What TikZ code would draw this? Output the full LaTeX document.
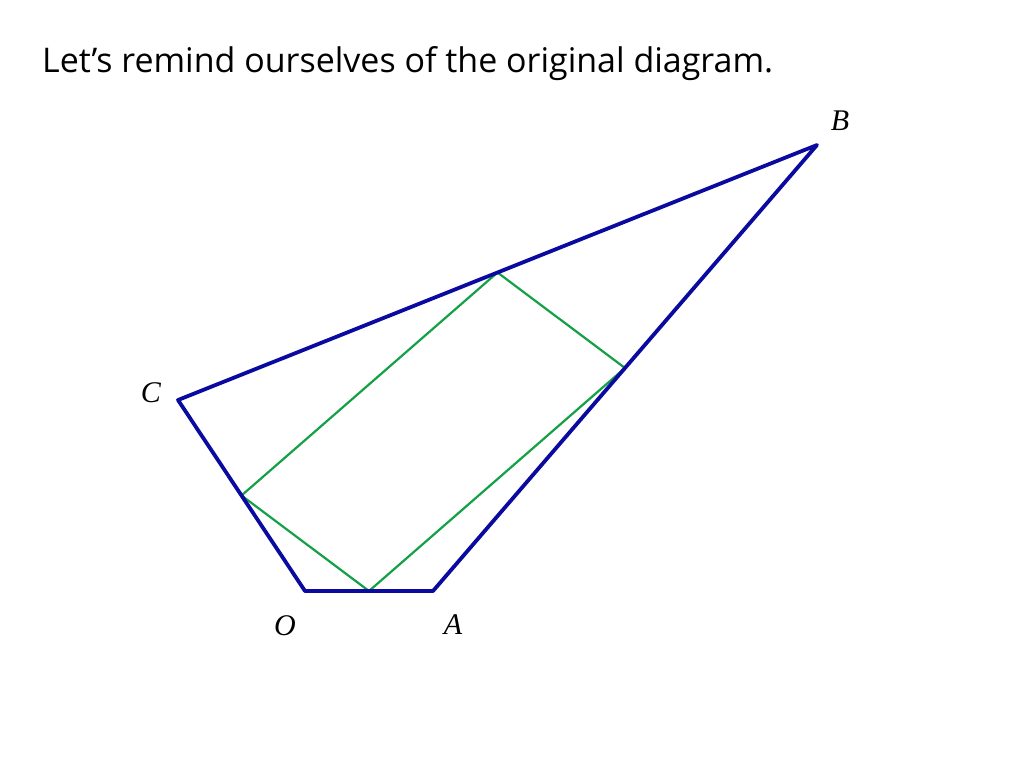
\documentclass[tikz,border=0pt]{standalone}
\usepackage{fontspec}
\newfontfamily\titlefont{Open Sans}
\newfontfamily\labfont{Liberation Serif}
\definecolor{qblue}{RGB}{10,10,160}
\definecolor{qgreen}{RGB}{20,160,70}
\begin{document}
\begin{tikzpicture}[x=1pt,y=-1pt,
  edge/.style={qblue,line width=3.8pt,line join=round},
  mid/.style={qgreen,line width=2.2pt,line join=round},
  lab/.style={inner sep=0pt,font=\labfont\itshape\fontsize{30}{30}\selectfont}]
\useasboundingbox (0,0) rectangle (1024,768);
\node[anchor=base west,inner sep=0pt] (title) at (42,72)
  {\resizebox{731pt}{!}{\titlefont\fontsize{33}{33}\selectfont Let’s remind ourselves of the original diagram.}};
\coordinate (O) at (305,591);
\coordinate (A) at (433,591);
\coordinate (B) at (817,145);
\coordinate (C) at (178,400);
\coordinate (mOA) at (369,591);
\coordinate (mAB) at (625,368);
\coordinate (mBC) at (497.5,272.5);
\coordinate (mCO) at (241.5,495.5);
\draw[mid] (mOA) -- (mAB) -- (mBC) -- (mCO) -- cycle;
\draw[edge] (O) -- (A) -- (B) -- (C) -- cycle;
\node[lab] (lB) at (840,121) {B};
\node[lab] (lC) at (151,393) {C};
\node[lab] (lO) at (285,626) {O};
\node[lab] (lA) at (453,625) {A};
\end{tikzpicture}
\end{document}
